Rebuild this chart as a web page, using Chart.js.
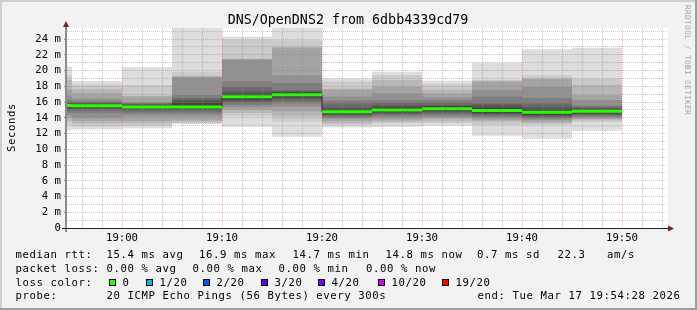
<!DOCTYPE html>
<html>
<head>
<meta charset="utf-8">
<title>DNS/OpenDNS2 smoke</title>
<script src="https://cdn.jsdelivr.net/npm/chart.js@4/dist/chart.umd.min.js"></script>
<style>
  html, body { margin: 0; padding: 0; background: #f2f2f2; }
  #wrap { width: 697px; height: 310px; }
</style>
</head>
<body>
<div id="wrap"><canvas id="smoke" width="697" height="310"></canvas></div>
<script>
// times are minutes after 18:00; each step is one 300 s rrd step (end time)
const stepEnds = [55, 60, 65, 70, 75, 80, 85, 90, 95, 100, 105, 110];
const medianRtt = [15.55, 15.53, 15.36, 15.36, 16.67, 16.93, 14.77, 15.0, 15.15, 14.93, 14.70, 14.82];

// 20 sorted pings per step (ms)
const pings1855 = [12.45, 13.1, 13.6, 14.0, 14.3, 14.6, 14.9, 15.1, 15.3, 15.45, 15.65, 15.75, 15.85, 16.0, 16.3, 16.8, 17.6, 18.8, 19.4, 20.5];
const pings1900 = [12.5, 12.9, 13.3, 13.6, 14.0, 14.56, 14.9, 15.1, 15.3, 15.43, 15.63, 15.75, 15.85, 15.95, 16.1, 16.4, 17.1, 17.65, 18.2, 18.67];
const pings1905 = [12.66, 13.0, 13.3, 13.6, 14.2, 14.5, 14.8, 15.0, 15.1, 15.27, 15.45, 15.55, 15.7, 15.8, 15.9, 16.0, 16.7, 16.8, 18.16, 20.4];
const pings1910 = [13.2, 13.3, 13.5, 13.7, 14.2, 14.5, 14.8, 15.0, 15.1, 15.27, 15.45, 15.9, 16.25, 16.5, 16.9, 19.1, 19.2, 19.3, 19.85, 25.6];
const pings1915 = [12.85, 14.2, 14.6, 15.0, 15.3, 15.6, 15.9, 16.1, 16.3, 16.5, 16.84, 17.0, 17.3, 17.9, 18.6, 21.4, 21.45, 21.5, 23.9, 24.3];
const pings1920 = [11.6, 13.5, 14.2, 14.8, 15.4, 15.8, 16.1, 16.4, 16.6, 16.78, 17.08, 17.2, 17.35, 17.5, 18.4, 19.4, 22.9, 23.0, 23.8, 25.6];
const pings1925 = [12.75, 13.1, 13.3, 13.6, 13.9, 14.0, 14.2, 14.35, 14.5, 14.64, 14.9, 15.1, 15.3, 15.8, 16.2, 16.7, 17.6, 17.7, 18.6, 19.0];
const pings1930 = [12.86, 13.3, 13.5, 13.7, 13.97, 14.2, 14.4, 14.55, 14.7, 14.85, 15.15, 15.35, 15.6, 15.9, 16.25, 17.1, 17.95, 18.8, 19.4, 19.85];
const pings1935 = [13.0, 13.35, 13.6, 13.9, 14.1, 14.3, 14.5, 14.7, 14.85, 15.0, 15.3, 15.45, 15.6, 15.9, 16.25, 16.6, 17.1, 17.6, 18.25, 18.7];
const pings1940 = [11.7, 13.08, 13.5, 13.7, 13.9, 14.1, 14.3, 14.45, 14.6, 14.76, 15.1, 15.3, 15.7, 15.8, 16.7, 17.5, 18.6, 18.7, 18.8, 21.0];
const pings1945 = [11.35, 13.1, 13.3, 13.5, 13.75, 13.9, 14.05, 14.2, 14.35, 14.55, 14.85, 15.1, 15.4, 15.8, 16.5, 17.9, 18.95, 19.0, 19.4, 22.7];
const pings1950 = [12.36, 13.5, 13.7, 13.85, 14.0, 14.15, 14.3, 14.45, 14.55, 14.67, 14.97, 15.1, 15.25, 15.4, 15.6, 16.25, 16.9, 18.2, 19.0, 22.9];
const pingSteps = [pings1855, pings1900, pings1905, pings1910, pings1915, pings1920,
                   pings1925, pings1930, pings1935, pings1940, pings1945, pings1950];

const timeTicks = [60, 70, 80, 90, 100, 110];
const timeLabels = ['19:00', '19:10', '19:20', '19:30', '19:40', '19:50'];

const lossLabels = ['0', '1/20', '2/20', '3/20', '4/20', '10/20', '19/20'];
const lossColors = ['#26ff00', '#00b8ff', '#0059ff', '#5e00ff', '#7e00ff', '#dd00ff', '#ff0000'];

// smokeping greys, outer pair first
const smokeGreys = ['#dddddd', '#cacaca', '#b7b7b7', '#a4a4a4', '#919191',
                    '#7e7e7e', '#6b6b6b', '#585858', '#454545', '#323232'];

const GRID = 'rgba(143,143,143,0.5)';
const MGRID = 'rgba(222,79,79,0.4)';
const FONT = '"DejaVu Sans Mono", monospace';

Chart.defaults.font.family = FONT;
Chart.defaults.color = '#000';

const smokeSets = smokeGreys.map((col, k) => ({
  type: 'bar',
  label: 'smoke' + (k + 1),
  data: stepEnds.map((t, i) => ({ x: t - 2.5, y: [pingSteps[i][k], pingSteps[i][19 - k]] })),
  backgroundColor: col,
  borderWidth: 0,
  inflateAmount: 0,
  grouped: false,
  barPercentage: 1,
  categoryPercentage: 1,
  order: 20 - k,
  clip: 0
}));

// thin dark link between medians
const linkPts = stepEnds.map((t, i) => ({ x: t - 5, y: medianRtt[i] }));
linkPts.push({ x: stepEnds[stepEnds.length - 1], y: medianRtt[medianRtt.length - 1] });

// green median, one segment per step
const medPts = [];
stepEnds.forEach((t, i) => {
  medPts.push({ x: t - 5, y: medianRtt[i] }, { x: t, y: medianRtt[i] }, { x: t, y: null });
});

const legendRows = [
  [[16, 'median rtt:'], [107, '15.4 ms avg'], [199.5, '16.9 ms max'], [293, '14.7 ms min'],
   [386, '14.8 ms now'], [477.5, '0.7 ms sd'], [558, '22.3'], [607.5, 'am/s']],
  [[16, 'packet loss:'], [107, '0.00 % avg'], [193, '0.00 % max'], [279, '0.00 % min'], [366.5, '0.00 % now']],
  [[16, 'loss color:']],
  [[16, 'probe:'], [107, '20 ICMP Echo Pings (56 Bytes) every 300s'], [478, 'end: Tue Mar 17 19:54:28 2026']]
];
const legendBase = [258, 272, 286, 299];
const lossBoxX = [109, 146, 203, 261, 318, 378, 442];

const rrdFrame = {
  id: 'rrdFrame',
  beforeDraw(chart) {
    const { ctx, chartArea: a, width: w, height: h } = chart;
    ctx.save();
    ctx.fillStyle = '#f2f2f2';
    ctx.fillRect(0, 0, w, h);
    ctx.fillStyle = '#cfcfcf';
    ctx.fillRect(0, 0, w, 2);
    ctx.fillRect(0, 0, 2, h);
    ctx.fillStyle = '#9e9e9e';
    ctx.fillRect(0, h - 2, w, 2);
    ctx.fillRect(w - 2, 0, 2, h);
    ctx.fillStyle = '#ffffff';
    ctx.fillRect(a.left, a.top, a.right - a.left + 1, a.bottom - a.top);
    ctx.restore();
  },
  afterDraw(chart) {
    const { ctx, chartArea: a } = chart;
    ctx.save();
    // axes
    ctx.fillStyle = '#8c8c8c';
    ctx.fillRect(a.left - 2, a.top - 2, 2, a.bottom - a.top + 6);
    ctx.fillStyle = '#1f1f1f';
    ctx.fillRect(a.left - 5, a.bottom, a.right - a.left + 6, 1);
    // arrows
    ctx.fillStyle = '#801f1f';
    ctx.beginPath();
    ctx.moveTo(a.left - 1, a.top - 7);
    ctx.lineTo(a.left - 4, a.top - 1);
    ctx.lineTo(a.left + 2, a.top - 1);
    ctx.closePath();
    ctx.fill();
    ctx.beginPath();
    ctx.moveTo(a.right + 7, a.bottom + 0.5);
    ctx.lineTo(a.right + 1, a.bottom - 2.5);
    ctx.lineTo(a.right + 1, a.bottom + 3.5);
    ctx.closePath();
    ctx.fill();

    // title
    ctx.fillStyle = '#000';
    ctx.font = '13.33px ' + FONT;
    ctx.textAlign = 'center';
    ctx.textBaseline = 'alphabetic';
    ctx.fillText('DNS/OpenDNS2 from 6dbb4339cd79', 348, 24);

    // vertical axis title
    ctx.font = '10.67px ' + FONT;
    ctx.letterSpacing = '0.58px';
    ctx.save();
    ctx.translate(15, 127.5);
    ctx.rotate(-Math.PI / 2);
    ctx.fillText('Seconds', 0, 0);
    ctx.restore();

    // watermark
    ctx.save();
    ctx.fillStyle = '#a3a3a3';
    ctx.font = '7.8px ' + FONT;
    ctx.letterSpacing = '0.3px';
    ctx.textAlign = 'left';
    ctx.translate(685, 5);
    ctx.rotate(Math.PI / 2);
    ctx.fillText('RRDTOOL / TOBI OETIKER', 0, 0);
    ctx.restore();

    // legend
    ctx.textAlign = 'left';
    ctx.font = '10.67px ' + FONT;
    ctx.letterSpacing = '0.58px';
    legendRows.forEach((row, r) => {
      row.forEach(([x, s]) => ctx.fillText(s, x - 0.5, legendBase[r]));
    });
    lossBoxX.forEach((bx, i) => {
      ctx.fillStyle = lossColors[i];
      ctx.fillRect(bx, 279, 7, 7);
      ctx.strokeStyle = '#000';
      ctx.lineWidth = 1;
      ctx.strokeRect(bx + 0.5, 279.5, 6, 6);
      ctx.fillStyle = '#000';
      ctx.fillText(lossLabels[i], bx + 13.5, legendBase[2]);
    });
    ctx.restore();
  }
};

new Chart(document.getElementById('smoke'), {
  type: 'bar',
  data: {
    datasets: [
      ...smokeSets,
      {
        type: 'line',
        label: 'link',
        data: linkPts,
        stepped: 'before',
        borderColor: '#202020',
        borderWidth: 1,
        pointRadius: 0,
        fill: false,
        order: 1,
        clip: 0
      },
      {
        type: 'line',
        label: 'median rtt',
        data: medPts,
        borderColor: lossColors[0],
        borderWidth: 3,
        pointRadius: 0,
        fill: false,
        spanGaps: false,
        order: 0,
        clip: 0
      }
    ]
  },
  options: {
    responsive: false,
    animation: false,
    devicePixelRatio: 1,
    events: [],
    layout: { padding: { top: 28, right: 30, bottom: 0, left: 0 } },
    plugins: { legend: { display: false }, tooltip: { enabled: false }, title: { display: false } },
    scales: {
      x: {
        type: 'linear',
        min: 54.5,
        max: 114.5,
        offset: false,
        afterBuildTicks: s => { s.ticks = timeTicks.map(v => ({ value: v })); },
        afterFit: s => { s.height = 82; },
        ticks: {
          autoSkip: false,
          maxRotation: 0,
          padding: 4,
          font: { size: 10.67 },
          callback: (v, i) => timeLabels[i]
        },
        grid: { color: MGRID, drawTicks: false, offset: false, z: 1 },
        border: { display: false, dash: [1, 1] }
      },
      xMinor: {
        type: 'linear',
        axis: 'x',
        position: 'top',
        min: 54.5,
        max: 114.5,
        offset: false,
        afterBuildTicks: s => {
          const list = [];
          for (let v = 56; v < 114.5; v += 2) list.push({ value: v });
          s.ticks = list;
        },
        afterFit: s => { s.height = 0; },
        ticks: { display: false, autoSkip: false },
        grid: {
          color: c => (c.tick.value % 10 === 0 ? 'transparent' : GRID),
          drawTicks: false, offset: false, z: 1
        },
        border: { display: false, dash: [1, 1] }
      },
      y: {
        type: 'linear',
        min: 0,
        max: 25.4,
        afterFit: s => { s.width = 67; },
        ticks: {
          stepSize: 1,
          autoSkip: false,
          includeBounds: false,
          padding: 3,
          font: { size: 10.67 },
          callback: v => (v === 0 ? '0' : (v % 2 === 0 ? v + ' m' : ''))
        },
        grid: {
          color: c => (c.tick.value === 0 ? 'transparent' : (c.tick.value % 2 === 0 ? MGRID : GRID)),
          tickColor: c => (c.tick.value % 2 === 0 ? '#8a8a8a' : 'transparent'),
          tickLength: 3,
          z: 1
        },
        border: { display: false, dash: [1, 1] }
      }
    }
  },
  plugins: [rrdFrame]
});
</script>
</body>
</html>
